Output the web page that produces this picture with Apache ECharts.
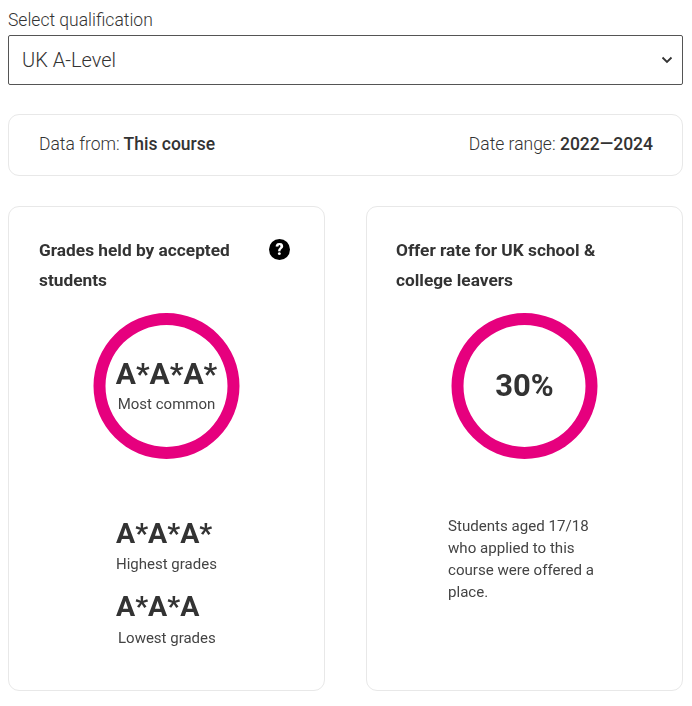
<!DOCTYPE html>
<html lang="en">
<head>
<meta charset="UTF-8">
<title>Entry grades and offer rate</title>
<script src="https://cdn.jsdelivr.net/npm/echarts@6/dist/echarts.min.js"></script>
<style>
    html, body { margin: 0; padding: 0; background: #fff; }
    body { width: 692px; height: 706px; position: relative; overflow: hidden; font-family: Roboto, sans-serif; color: #333; }
    .abs { position: absolute; white-space: nowrap; }
    .label { left: 8px; top: 10px; font-size: 17.5px; line-height: 20px; font-weight: 300; color: #333; }
    select {
        position: absolute; left: 8px; top: 35px; width: 675px; height: 50px; box-sizing: border-box;
        padding: 0 13px; font: 300 20px Roboto, sans-serif; color: #333; border: 1px solid #555; border-radius: 2px;
        appearance: none; -webkit-appearance: none;
        background: #fff url("data:image/svg+xml,%3Csvg xmlns='http://www.w3.org/2000/svg' width='12' height='8'%3E%3Cpath d='M1.5 1.5L6 6l4.5-4.5' fill='none' stroke='%23333' stroke-width='1.8'/%3E%3C/svg%3E") no-repeat 652px 20px;
    }
    .card { position: absolute; box-sizing: border-box; border: 1px solid #e8e8e8; border-radius: 11px; background: #fff; }
    .light { font-weight: 300; }
    .info { top: 134px; font-size: 17.5px; line-height: 20px; font-weight: 500; color: #333; }
    .title { top: 235px; font-size: 17.3px; line-height: 30px; font-weight: 700; color: #333; }
    .help {
        left: 269px; top: 239px; width: 21px; height: 21px; border-radius: 50%; background: #000;
        color: #fff; font-size: 16px; font-weight: 900; line-height: 21px; text-align: center;
    }
    .grade { font-size: 28.5px; font-weight: 700; line-height: 36px; color: #333; }
    .small { font-size: 15px; line-height: 18px; color: #444; }
    .note { left: 448px; top: 515px; font-size: 15.1px; line-height: 22px; color: #444; }
    #chart { position: absolute; left: 0; top: 0; width: 692px; height: 706px; }
</style>
</head>
<body>
    <div class="abs label">Select qualification</div>
    <select><option>UK A-Level</option></select>

    <div class="card" style="left:8px;top:114px;width:675px;height:62px"></div>
    <div class="abs info" style="left:39px"><span class="light">Data from:</span> This course</div>
    <div class="abs info" style="right:39px"><span class="light">Date range:</span> 2022—2024</div>

    <div class="card" style="left:8px;top:206px;width:317px;height:485px"></div>
    <div class="card" style="left:366px;top:206px;width:317px;height:485px"></div>

    <div id="chart"></div>

    <div class="abs title" style="left:39px">Grades held by accepted<br>students</div>
    <div class="abs help">?</div>
    <div class="abs title" style="left:396px">Offer rate for UK school &amp;<br>college leavers</div>

    <div class="abs grade" style="left:116px;top:516px" id="highGrade"></div>
    <div class="abs small" style="left:116px;top:555px">Highest grades</div>
    <div class="abs grade" style="left:116px;top:589px" id="lowGrade"></div>
    <div class="abs small" style="left:118px;top:629px">Lowest grades</div>

    <div class="abs note">Students aged 17/18<br>who applied to this<br>course were offered a<br>place.</div>

    <script>
        // values
        const gradeKinds = ['Most common', 'Highest grades', 'Lowest grades'];
        const gradeValues = ['A*A*A*', 'A*A*A*', 'A*A*A'];
        const offerRate = [30];

        document.getElementById('highGrade').textContent = gradeValues[1];
        document.getElementById('lowGrade').textContent = gradeValues[2];

        const pink = '#e6007e';
        const ring = { type: 'pie', radius: [61, 73], silent: true, label: { show: false }, labelLine: { show: false },
                       itemStyle: { color: pink }, animation: false };

        const chart = echarts.init(document.getElementById('chart'));
        chart.setOption({
            animation: false,
            title: [
                { text: gradeValues[0], left: 166.5, top: 361, textAlign: 'center', padding: 0,
                  textStyle: { fontFamily: 'Roboto', fontSize: 30, fontWeight: 700, color: '#333' } },
                { text: gradeKinds[0], left: 166.5, top: 398, textAlign: 'center', padding: 0,
                  textStyle: { fontFamily: 'Roboto', fontSize: 15, fontWeight: 400, color: '#444' } },
                { text: offerRate[0] + '%', left: 524.5, top: 373, textAlign: 'center', padding: 0,
                  textStyle: { fontFamily: 'Roboto', fontSize: 31, fontWeight: 700, color: '#333' } }
            ],
            series: [
                Object.assign({}, ring, { center: [166.5, 386], data: [{ value: 1, name: gradeValues[0] }] }),
                Object.assign({}, ring, { center: [524.5, 386], data: [{ value: offerRate[0], name: 'Offer rate' }] })
            ]
        });
    </script>
</body>
</html>
